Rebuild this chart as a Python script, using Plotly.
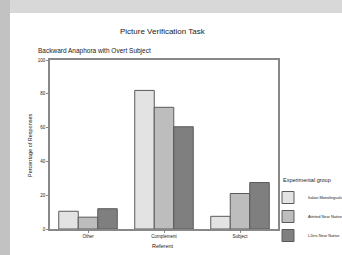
import plotly.graph_objects as go

categories = ["Other", "Complement", "Subject"]
groups = ["Italian Monolinguals", "Attrited Near Native", "L2ers Near Native"]
italian = [10.5, 82, 7.5]
attrited = [7, 72, 21]
l2ers = [12, 60.5, 27.5]
colors = ["#e3e3e3", "#bdbdbd", "#7f7f7f"]

fig = go.Figure()
for name, vals, c in zip(groups, [italian, attrited, l2ers], colors):
    fig.add_trace(go.Bar(x=categories, y=vals, name=name,
                         marker=dict(color=c, line=dict(color="#5a5a5a", width=1))))

W, H = 342, 255
L, R, T, B = 50, 64, 60, 26
pw, ph = W - L - R, H - T - B
def px(x): return (x - L) / pw
def py(y): return (H - B - y) / ph

fig.update_layout(
    width=W, height=H,
    margin=dict(l=L, r=R, t=T, b=B, autoexpand=False),
    paper_bgcolor="#d8d8d8", plot_bgcolor="white",
    barmode="group", bargap=0.23, bargroupgap=0,
    font=dict(family="Liberation Sans, Arial", color="#222"),
    showlegend=True,
    legend=dict(x=px(268), y=py(183), xanchor="left", yanchor="top",
                bgcolor="rgba(0,0,0,0)", font=dict(size=3.9),
                tracegroupgap=0, itemwidth=30),
    shapes=[
        dict(type="rect", xref="paper", yref="paper", x0=px(0), x1=px(10), y0=py(255), y1=py(0),
             fillcolor="#c2c2c2", line=dict(width=0), layer="below"),
        dict(type="rect", xref="paper", yref="paper", x0=px(10), x1=px(342), y0=py(255), y1=py(13),
             fillcolor="white", line=dict(width=0), layer="below"),
    ],
    annotations=[
        dict(text="Picture Verification Task", x=px(163), y=py(25), xref="paper", yref="paper",
             showarrow=False, font=dict(size=8)),
        dict(text="Backward Anaphora with Overt Subject", x=px(36), y=py(45), xref="paper", yref="paper",
             xanchor="left", showarrow=False, font=dict(size=6.5)),
        dict(text="Referent", x=px(163), y=py(251), xref="paper", yref="paper",
             showarrow=False, font=dict(size=5.5)),
        dict(text="Percentage of Responses", x=px(25), y=py(145), xref="paper", yref="paper",
             showarrow=False, textangle=-90, font=dict(size=5.5)),
        dict(text="Experimental group", x=px(281), y=py(185), xref="paper", yref="paper",
             xanchor="left", showarrow=False, font=dict(size=5.5)),
    ],
)
fig.update_xaxes(showline=True, linecolor="#888", linewidth=1.5, mirror=True,
                 ticks="outside", ticklen=2, tickcolor="#888", tickfont=dict(size=4.5))
fig.update_yaxes(range=[0, 100], dtick=20, showgrid=False, zeroline=False,
                 showline=True, linecolor="#888", linewidth=1.5, mirror=True,
                 ticks="outside", ticklen=2, tickcolor="#888", tickfont=dict(size=4.5))

fig.write_html("out.html", config={"displayModeBar": False},
               post_script="document.body.style.margin='0';document.body.style.overflow='hidden';")
